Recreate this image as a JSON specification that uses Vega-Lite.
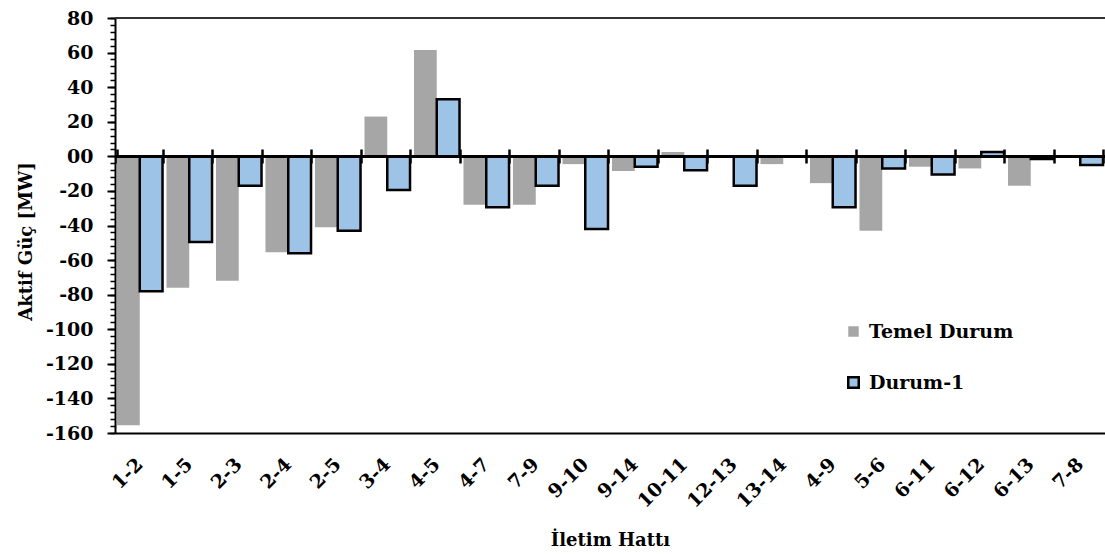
{
  "$schema": "https://vega.github.io/schema/vega-lite/v6.json",
  "width": 990,
  "height": 415,
  "autosize": "none",
  "padding": {"left": 115, "top": 18, "right": 0, "bottom": 121},
  "background": "white",
  "data": {
    "values": [
      {"line": "1-2", "series": "Temel Durum", "value": -155.5},
      {"line": "1-2", "series": "Durum-1", "value": -78},
      {"line": "1-5", "series": "Temel Durum", "value": -76},
      {"line": "1-5", "series": "Durum-1", "value": -49.5},
      {"line": "2-3", "series": "Temel Durum", "value": -72},
      {"line": "2-3", "series": "Durum-1", "value": -17},
      {"line": "2-4", "series": "Temel Durum", "value": -55.5},
      {"line": "2-4", "series": "Durum-1", "value": -56},
      {"line": "2-5", "series": "Temel Durum", "value": -41},
      {"line": "2-5", "series": "Durum-1", "value": -43},
      {"line": "3-4", "series": "Temel Durum", "value": 23},
      {"line": "3-4", "series": "Durum-1", "value": -19.5},
      {"line": "4-5", "series": "Temel Durum", "value": 61.5},
      {"line": "4-5", "series": "Durum-1", "value": 33},
      {"line": "4-7", "series": "Temel Durum", "value": -28},
      {"line": "4-7", "series": "Durum-1", "value": -29.5},
      {"line": "7-9", "series": "Temel Durum", "value": -28},
      {"line": "7-9", "series": "Durum-1", "value": -17},
      {"line": "9-10", "series": "Temel Durum", "value": -4.5},
      {"line": "9-10", "series": "Durum-1", "value": -42},
      {"line": "9-14", "series": "Temel Durum", "value": -8.5},
      {"line": "9-14", "series": "Durum-1", "value": -6},
      {"line": "10-11", "series": "Temel Durum", "value": 2.5},
      {"line": "10-11", "series": "Durum-1", "value": -8},
      {"line": "12-13", "series": "Temel Durum", "value": 0},
      {"line": "12-13", "series": "Durum-1", "value": -17},
      {"line": "13-14", "series": "Temel Durum", "value": -4.5},
      {"line": "13-14", "series": "Durum-1", "value": 0},
      {"line": "4-9", "series": "Temel Durum", "value": -15.5},
      {"line": "4-9", "series": "Durum-1", "value": -29.5},
      {"line": "5-6", "series": "Temel Durum", "value": -43},
      {"line": "5-6", "series": "Durum-1", "value": -7},
      {"line": "6-11", "series": "Temel Durum", "value": -6},
      {"line": "6-11", "series": "Durum-1", "value": -10.5},
      {"line": "6-12", "series": "Temel Durum", "value": -7},
      {"line": "6-12", "series": "Durum-1", "value": 2.5},
      {"line": "6-13", "series": "Temel Durum", "value": -17},
      {"line": "6-13", "series": "Durum-1", "value": -1.5},
      {"line": "7-8", "series": "Temel Durum", "value": 0},
      {"line": "7-8", "series": "Durum-1", "value": -5}
    ]
  },
  "layer": [
    {
      "transform": [{"filter": "datum.series === 'Temel Durum'"}],
      "mark": {"type": "bar", "strokeWidth": 2.5},
      "encoding": {
        "x": {
          "field": "line", "type": "nominal",
          "scale": {"domain": ["1-2","1-5","2-3","2-4","2-5","3-4","4-5","4-7","7-9","9-10","9-14","10-11","12-13","13-14","4-9","5-6","6-11","6-12","6-13","7-8"], "paddingInner": 0.08, "paddingOuter": 0.04},
          "axis": {"orient": "bottom", "ticks": false, "domain": true, "domainColor": "black", "domainWidth": 2, "labelAngle": -45, "labelAlign": "right", "labelBaseline": "middle", "labelPadding": 28, "labelFontSize": 19, "title": "İletim Hattı", "titlePadding": 20}
        },
        "xOffset": {"field": "series", "type": "nominal", "scale": {"domain": ["Temel Durum", "Durum-1"]}},
        "y": {
          "field": "value", "type": "quantitative",
          "scale": {"domain": [-160, 80], "nice": false},
          "axis": {"orient": "left", "values": [-160,-140,-120,-100,-80,-60,-40,-20,0,20,40,60,80], "labelExpr": "datum.value == 0 ? '00' : '' + datum.value", "labelFontSize": 19, "tickSize": 8, "tickWidth": 2, "tickColor": "black", "domain": true, "domainColor": "black", "domainWidth": 2, "labelPadding": 14, "grid": false, "title": "Aktif Güç [MW]", "titlePadding": 10, "titleY": 223}
        },
        "fill": {"field": "series", "type": "nominal", "scale": {"domain": ["Temel Durum", "Durum-1"], "range": ["#a6a6a6", "#9dc3e6"]}, "legend": {"title": null}},
        "stroke": {"field": "series", "type": "nominal", "scale": {"domain": ["Temel Durum", "Durum-1"], "range": ["transparent", "black"]}, "legend": {"title": null}}
      }
    },
    {
      "transform": [{"filter": "datum.series === 'Durum-1'"}],
      "mark": {"type": "bar", "strokeWidth": 2.5},
      "encoding": {
        "x": {
          "field": "line", "type": "nominal",
          "axis": {"orient": "bottom", "offset": -284, "labels": false, "domain": false, "ticks": true, "tickBand": "extent", "tickSize": 14, "tickWidth": 2.5, "tickColor": "black", "title": null}
        },
        "xOffset": {"field": "series", "type": "nominal", "scale": {"domain": ["Temel Durum", "Durum-1"]}},
        "y": {
          "field": "value", "type": "quantitative",
          "axis": {"orient": "left", "values": [-160,-156,-152,-148,-144,-140,-136,-132,-128,-124,-120,-116,-112,-108,-104,-100,-96,-92,-88,-84,-80,-76,-72,-68,-64,-60,-56,-52,-48,-44,-40,-36,-32,-28,-24,-20,-16,-12,-8,-4,0,4,8,12,16,20,24,28,32,36,40,44,48,52,56,60,64,68,72,76,80], "labels": false, "domain": false, "tickSize": 5, "tickWidth": 1.5, "tickColor": "black", "grid": false, "title": null}
        },
        "fill": {"field": "series", "type": "nominal", "legend": {"title": null}},
        "stroke": {"field": "series", "type": "nominal", "legend": {"title": null}}
      }
    },
    {
      "mark": {"type": "rule", "strokeWidth": 2, "color": "#333333"},
      "encoding": {"y": {"datum": 80, "type": "quantitative", "axis": null}}
    },
    {
      "mark": {"type": "rule", "strokeWidth": 2.5, "color": "black"},
      "encoding": {"y": {"datum": 0, "type": "quantitative", "axis": null}}
    }
  ],
  "resolve": {"axis": {"x": "independent", "y": "independent"}},
  "config": {
    "view": {"stroke": null},
    "axis": {"labelFont": "DejaVu Serif", "titleFont": "DejaVu Serif", "labelFontWeight": "bold", "titleFontWeight": "bold", "labelColor": "black", "titleColor": "black", "labelFontSize": 18, "titleFontSize": 18},
    "legend": {"orient": "none", "legendX": 729, "legendY": 304, "padding": 0, "symbolType": "square", "symbolSize": 110, "symbolStrokeWidth": 2.5, "labelFont": "DejaVu Serif", "labelFontWeight": "bold", "labelFontSize": 19, "labelColor": "black", "rowPadding": 30, "labelOffset": 6, "labelLimit": 300}
  }
}
